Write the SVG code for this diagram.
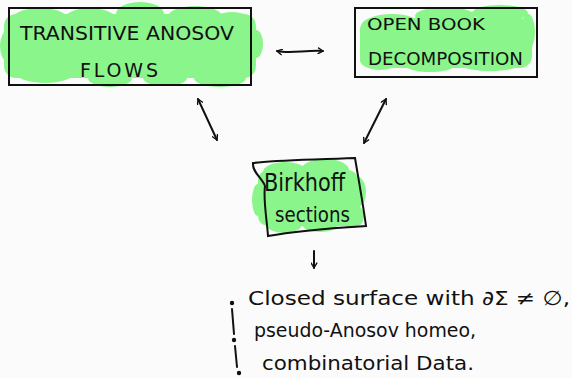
<svg xmlns="http://www.w3.org/2000/svg" width="572" height="378" viewBox="0 0 572 378">
  <style>
    .hl { fill: #8af58a; }
    .frame { fill: none; stroke: #111; stroke-width: 2; }
    .ink { fill: #111; font-family: "DejaVu Sans", "Liberation Sans", sans-serif; }
    .caps { font-size: 19px; }
    .hand { font-size: 20px; }
    .conn { fill: none; stroke: #111; stroke-width: 2; stroke-linecap: round; }
  </style>
  <defs>
    <marker id="head" viewBox="0 0 10 10" refX="8" refY="5" markerWidth="7" markerHeight="7" orient="auto-start-reverse" markerUnits="userSpaceOnUse">
      <path d="M1,1 L8,5 L1,9" fill="none" stroke="#111" stroke-width="2" stroke-linecap="round" stroke-linejoin="round"/>
    </marker>
  </defs>
  <rect width="572" height="378" fill="#fbfbfb"/>

  <!-- Transitive Anosov flows -->
  <g id="anosov-flows">
    <g class="hl">
      <rect x="4" y="14" width="252" height="64" rx="12"/>
      <ellipse cx="40" cy="22" rx="30" ry="14"/>
      <ellipse cx="90" cy="20" rx="26" ry="12"/>
      <ellipse cx="140" cy="14" rx="24" ry="12"/>
      <ellipse cx="195" cy="18" rx="28" ry="12"/>
      <ellipse cx="232" cy="24" rx="22" ry="12"/>
      <ellipse cx="8" cy="46" rx="8" ry="16"/>
      <ellipse cx="256" cy="44" rx="7" ry="14"/>
      <ellipse cx="45" cy="74" rx="28" ry="9"/>
      <ellipse cx="110" cy="78" rx="22" ry="9"/>
      <ellipse cx="165" cy="78" rx="22" ry="8"/>
      <ellipse cx="220" cy="78" rx="26" ry="9"/>
    </g>
    <rect class="frame" x="9" y="8" width="242" height="77"/>
    <text class="ink caps" x="20" y="40" textLength="214" lengthAdjust="spacingAndGlyphs">TRANSITIVE ANOSOV</text>
    <text class="ink caps" x="80" y="77" font-size="18" textLength="78" lengthAdjust="spacing">FLOWS</text>
  </g>

  <!-- Open book decomposition -->
  <g id="open-book">
    <g class="hl">
      <rect x="360" y="18" width="172" height="50" rx="12"/>
      <ellipse cx="392" cy="24" rx="28" ry="10"/>
      <ellipse cx="445" cy="16" rx="30" ry="9"/>
      <ellipse cx="500" cy="13" rx="28" ry="8"/>
      <ellipse cx="528" cy="32" rx="7" ry="18"/>
      <ellipse cx="380" cy="60" rx="20" ry="10"/>
      <ellipse cx="430" cy="64" rx="26" ry="8"/>
      <ellipse cx="490" cy="64" rx="30" ry="7"/>
    </g>
    <rect class="frame" x="355" y="8" width="182" height="69"/>
    <text class="ink" x="367" y="30" font-size="15" textLength="118" lengthAdjust="spacingAndGlyphs">OPEN BOOK</text>
    <text class="ink" x="368" y="65" font-size="17" textLength="155" lengthAdjust="spacingAndGlyphs">DECOMPOSITION</text>
  </g>

  <!-- Birkhoff sections -->
  <g id="birkhoff-sections">
    <g class="hl">
      <rect x="258" y="170" width="100" height="56" rx="10"/>
      <ellipse cx="285" cy="172" rx="22" ry="10"/>
      <ellipse cx="325" cy="170" rx="24" ry="11"/>
      <ellipse cx="356" cy="192" rx="10" ry="16"/>
      <ellipse cx="352" cy="216" rx="12" ry="12"/>
      <ellipse cx="320" cy="224" rx="18" ry="8"/>
      <ellipse cx="284" cy="224" rx="18" ry="9"/>
      <ellipse cx="258" cy="200" rx="6" ry="16"/>
    </g>
    <path class="frame" d="M253,163 C275,160 310,160 355,158 C359,182 363,204 366,226 C334,228 300,230 268,236 C267,220 263,200 265,186 C262,178 252,172 253,163 Z"/>
    <text class="ink" x="264" y="191" font-size="25" textLength="81" lengthAdjust="spacingAndGlyphs">Birkhoff</text>
    <text class="ink" x="275" y="222" font-size="21" textLength="75" lengthAdjust="spacingAndGlyphs">sections</text>
  </g>

  <!-- Data list -->
  <g id="data-list">
    <circle cx="232" cy="303" r="2.2" fill="#111"/>
    <circle cx="234" cy="340" r="2.2" fill="#111"/>
    <circle cx="239" cy="373" r="2.2" fill="#111"/>
    <path class="conn" d="M232,309 L234,334 M235,346 L237,367"/>
    <text class="ink hand" x="248" y="305" font-size="19" textLength="322" lengthAdjust="spacingAndGlyphs">Closed surface with ∂Σ ≠ ∅,</text>
    <text class="ink hand" x="254" y="337" font-size="19" textLength="222" lengthAdjust="spacingAndGlyphs">pseudo-Anosov homeo,</text>
    <text class="ink hand" x="262" y="370" font-size="19" textLength="212" lengthAdjust="spacingAndGlyphs">combinatorial Data.</text>
  </g>

  <!-- Connectors -->
  <g id="connectors">
    <path class="conn" d="M277,51 C290,54 305,50 323,51" marker-start="url(#head)" marker-end="url(#head)"/>
    <path class="conn" d="M198,99 L217,140" marker-start="url(#head)" marker-end="url(#head)"/>
    <path class="conn" d="M386,99 L364,143" marker-start="url(#head)" marker-end="url(#head)"/>
    <path class="conn" d="M314,251 L314,268" marker-end="url(#head)"/>
  </g>
</svg>
